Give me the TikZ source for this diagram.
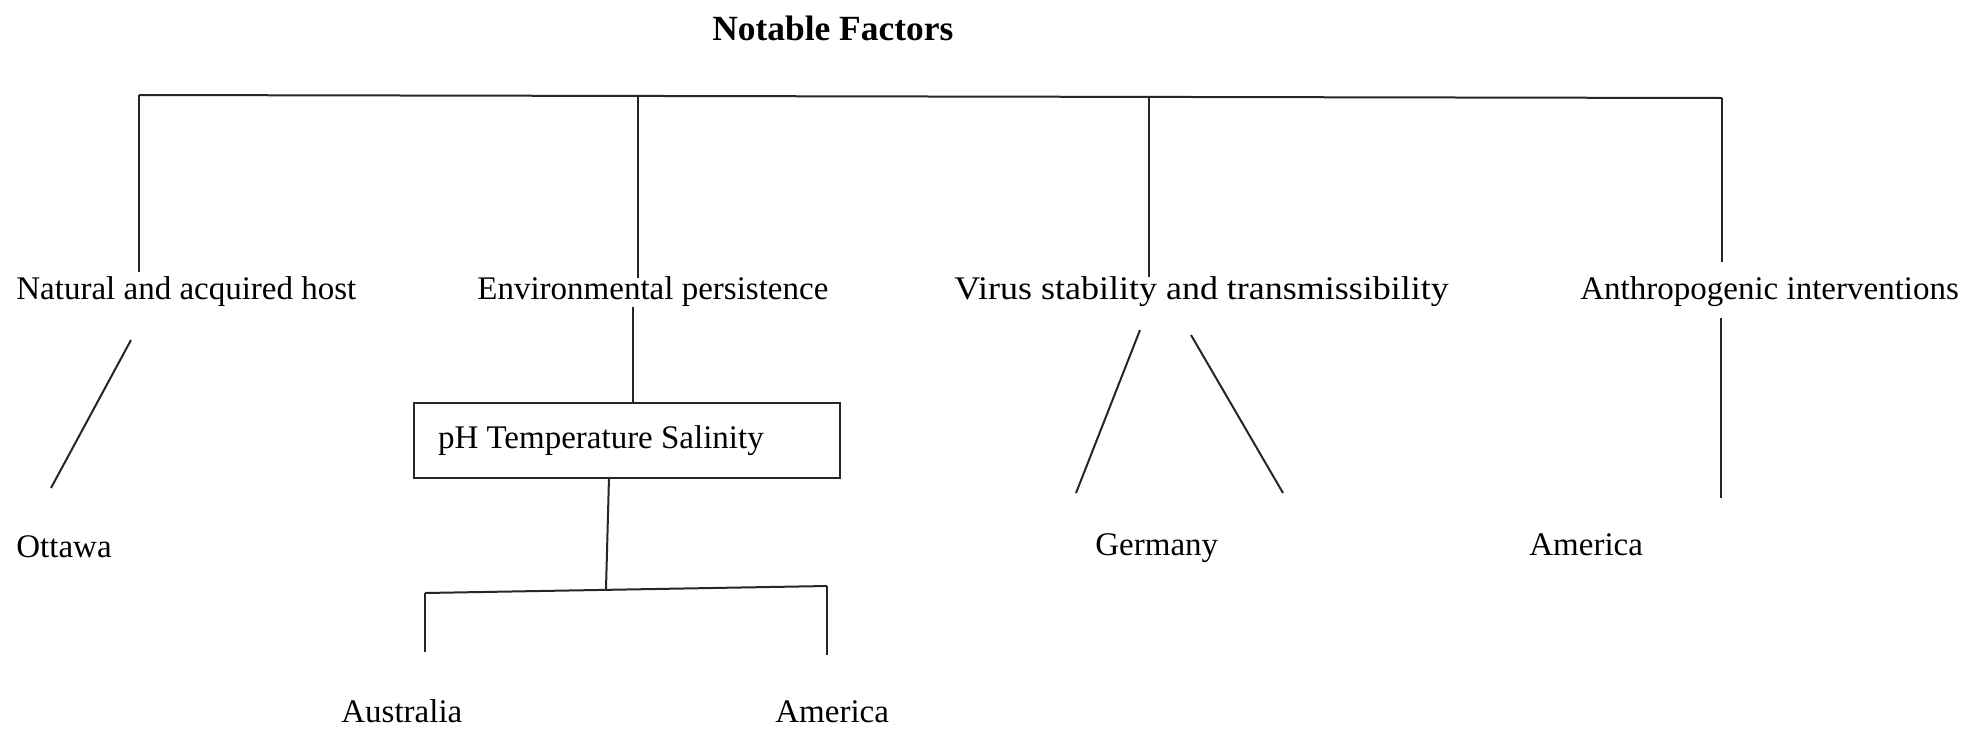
\documentclass[tikz,border=0pt]{standalone}
\usepackage{graphicx}
\usepackage{fontspec}
\setmainfont{Liberation Serif}
\begin{document}
\begin{tikzpicture}[x=0.5pt,y=-0.5pt,
  lbl/.style={anchor=base west,inner sep=0pt,font=\fontsize{16.5}{20}\selectfont},
  ttl/.style={anchor=base west,inner sep=0pt,font=\fontsize{17.7}{20}\selectfont\bfseries},
  conn/.style={draw=black!85,line width=1pt},
  boxnode/.style={draw=black!85,line width=1pt,anchor=north west,inner sep=0pt,
    minimum width=213pt,minimum height=37.5pt,font=\fontsize{16.5}{20}\selectfont}]
\useasboundingbox (0,0) rectangle (1981,729);
% texts
\node[ttl] (title) at (712,40) {Notable Factors};
\node[lbl] (nat) at (16,299) {Natural and acquired host};
\node[lbl] (env) at (477,299) {Environmental persistence};
\node[lbl] (vir) at (954,299) {\scalebox{1.09}[1]{Virus stability and transmissibility}};
\node[lbl] (ant) at (1580,299) {Anthropogenic interventions};
\node[boxnode] (box) at (413,402) {\makebox[213pt][l]{\hspace{12pt}\raisebox{1pt}{pH Temperature Salinity}}};
\node[lbl] (ottawa) at (16,557) {Ottawa};
\node[lbl] (germany) at (1095,555) {Germany};
\node[lbl] (americaR) at (1529,555) {America};
\node[lbl] (australia) at (341,722) {Australia};
\node[lbl] (americaB) at (775,722) {America};
% connector points
\coordinate (t1) at (139,95);
\coordinate (t2) at (638,96);
\coordinate (t3) at (1149,97);
\coordinate (t4) at (1722,98);
\coordinate (n1) at (139,272);
\coordinate (n2) at (638,278);
\coordinate (n3) at (1149,277);
\coordinate (n4) at (1722,262);
\coordinate (e1) at (633,307);
\coordinate (b1) at (609,477);
\coordinate (b2) at (606,589);
\coordinate (bl) at (425,593);
\coordinate (br) at (827,586);
\coordinate (al) at (425,652);
\coordinate (ar) at (827,655);
\coordinate (o1) at (131,340);
\coordinate (o2) at (51,488);
\coordinate (g1) at (1140,330);
\coordinate (g2) at (1076,493);
\coordinate (g3) at (1191,335);
\coordinate (g4) at (1283,493);
\coordinate (a1) at (1721,318);
\coordinate (a2) at (1721,498);
% connectors
\draw[conn] (t1) -- (t4);
\draw[conn] (t1) -- (n1);
\draw[conn] (t2) -- (n2);
\draw[conn] (t3) -- (n3);
\draw[conn] (t4) -- (n4);
\draw[conn] (e1) -- (e1 |- box.north);
\draw[conn] (b1) -- (b2);
\draw[conn] (bl) -- (br);
\draw[conn] (bl) -- (al);
\draw[conn] (br) -- (ar);
\draw[conn] (o1) -- (o2);
\draw[conn] (g1) -- (g2);
\draw[conn] (g3) -- (g4);
\draw[conn] (a1) -- (a2);
\end{tikzpicture}
\end{document}
